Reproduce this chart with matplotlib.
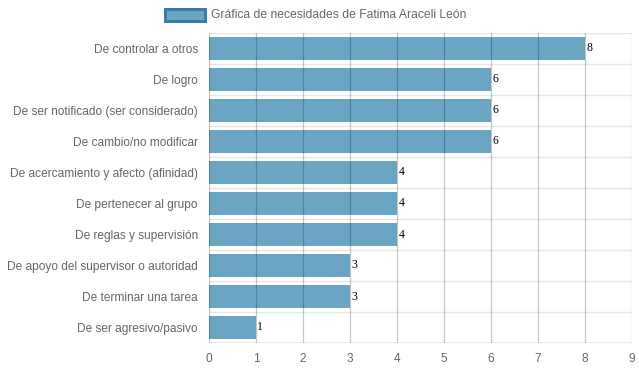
import matplotlib.pyplot as plt
from matplotlib.patches import Rectangle

categories = ["De controlar a otros", "De logro", "De ser notificado (ser considerado)",
              "De cambio/no modificar", "De acercamiento y afecto (afinidad)",
              "De pertenecer al grupo", "De reglas y supervisión",
              "De apoyo del supervisor o autoridad", "De terminar una tarea",
              "De ser agresivo/pasivo"]
values = [8, 6, 6, 6, 4, 4, 4, 3, 3, 1]
legend_label = "Gráfica de necesidades de Fatima Araceli León"

plt.rcParams['font.family'] = ['Liberation Sans', 'DejaVu Sans']

fig = plt.figure(figsize=(6.39, 3.72), dpi=100)
ax = fig.add_axes([209 / 639, 29 / 372, 423 / 639, 310 / 372])

n = len(categories)
ypos = list(range(n))
ax.barh(ypos, values, height=0.72, color='#6aa6c4', zorder=2)
ax.set_ylim(n - 0.5, -0.5)
ax.set_xlim(0, 9)
ax.set_xticks(range(10))
ax.set_yticks(ypos)
ax.set_yticklabels(categories)
ax.tick_params(axis='both', colors='#666666', labelsize=8.6, length=0)
ax.tick_params(axis='y', pad=8)
ax.tick_params(axis='x', pad=7)

# grid: vertical darker, horizontal light at row boundaries
for x in range(10):
    ax.axvline(x, color='#000000', alpha=0.22, lw=0.9, zorder=3)
for b in range(n):
    ax.axhline(b - 0.5, color='#e6e6e6', lw=1, zorder=1)

for s in ax.spines.values():
    s.set_visible(False)
ax.axhline(n - 0.5, color='#999999', lw=1, zorder=3)

for y, v in zip(ypos, values):
    ax.text(v + 0.03, y, str(v), va='center', ha='left', fontsize=8.5,
            family='Liberation Serif', color='#000000', zorder=4)

# legend box like Chart.js
fig.patches.append(Rectangle((165 / 639, 1 - 21 / 372), 40 / 639, 12 / 372,
                             transform=fig.transFigure, facecolor='#6aa6c4',
                             edgecolor='#3a7ca5', lw=2.2))
fig.text(211 / 639, 1 - 15 / 372, legend_label, va='center', ha='left',
         fontsize=8.7, color='#666666')

fig.savefig('out.png', dpi=100)
